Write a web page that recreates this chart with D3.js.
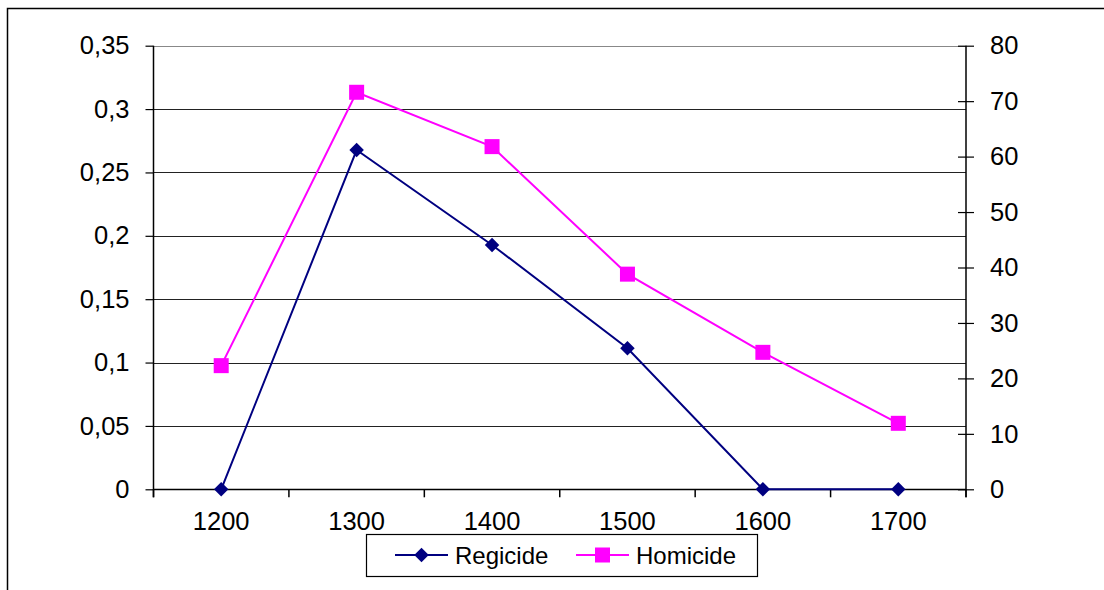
<!DOCTYPE html>
<html>
<head>
<meta charset="utf-8">
<script src="https://cdn.jsdelivr.net/npm/d3@7"></script>
<style>
  html, body { margin: 0; padding: 0; background: #fff; }
  svg { display: block; font-family: "Liberation Sans", Arial, sans-serif; }
</style>
</head>
<body>
<svg id="chart" width="1104" height="590"></svg>
<script>
// Centuries on the category axis
const centuries = ["1200", "1300", "1400", "1500", "1600", "1700"];
// Regicide rate (left axis)
const regicide = [0, 0.2677, 0.1928, 0.1113, 0, 0];
// Homicide rate (right axis)
const homicide = [22.3, 71.6, 61.8, 38.8, 24.7, 11.9];
// Axis tick values and labels
const leftTicks = [0, 0.05, 0.1, 0.15, 0.2, 0.25, 0.3, 0.35];
const leftLabels = ["0", "0,05", "0,1", "0,15", "0,2", "0,25", "0,3", "0,35"];
const rightTicks = [0, 10, 20, 30, 40, 50, 60, 70, 80];
const seriesNames = ["Regicide", "Homicide"];

const svg = d3.select("#chart");
const plot = { left: 153.5, right: 966, top: 45.7, bottom: 489.3 };
const tickFont = 25.5;

const x = d3.scaleBand().domain(centuries).range([plot.left, plot.right]).padding(0);
const yL = d3.scaleLinear().domain([0, 0.35]).range([plot.bottom, plot.top]);
const yR = d3.scaleLinear().domain([0, 80]).range([plot.bottom, plot.top]);
const cx = d => x(d) + x.bandwidth() / 2;

// Outer frame (left and top edges)
svg.append("path")
  .attr("d", "M7.5,590 L7.5,8.5 L1104,8.5")
  .attr("fill", "none").attr("stroke", "#000").attr("stroke-width", 1.5);

// Horizontal gridlines following the left axis
svg.append("g").selectAll("line").data(leftTicks).join("line")
  .attr("x1", plot.left).attr("x2", plot.right)
  .attr("y1", d => Math.round(yL(d)) + 0.5).attr("y2", d => Math.round(yL(d)) + 0.5)
  .attr("stroke", d => d === 0.35 ? "#888" : "#222").attr("stroke-width", 1.2);

// Left axis
const axL = d3.axisLeft(yL).tickValues(leftTicks)
  .tickFormat((d, i) => leftLabels[i]).tickSize(8).tickPadding(16);
const gL = svg.append("g").attr("transform", `translate(${plot.left},0)`).call(axL);

// Right axis with crossing ticks
const axR = d3.axisRight(yR).tickValues(rightTicks).tickSize(8).tickPadding(16);
const gR = svg.append("g").attr("transform", `translate(${plot.right},0)`).call(axR);
gR.selectAll(".tick line").attr("x1", -8);

// Category axis: ticks on band boundaries
const bounds = centuries.map(c => x(c)).concat([plot.right]);
const gX = svg.append("g");
gX.append("line").attr("x1", plot.left).attr("x2", plot.right)
  .attr("y1", Math.round(plot.bottom) + 0.5).attr("y2", Math.round(plot.bottom) + 0.5)
  .attr("stroke", "#000").attr("stroke-width", 1.5);
gX.selectAll("line.b").data(bounds).join("line").attr("class", "b")
  .attr("x1", d => d).attr("x2", d => d)
  .attr("y1", plot.bottom).attr("y2", plot.bottom + 8)
  .attr("stroke", "#000").attr("stroke-width", 1.5);
gX.selectAll("text").data(centuries).join("text")
  .attr("x", d => cx(d)).attr("y", 530)
  .attr("text-anchor", "middle").attr("font-size", tickFont).attr("fill", "#000")
  .text(d => d);

[gL, gR].forEach(g => {
  g.select(".domain").attr("stroke", "#000").attr("stroke-width", 1.5);
  g.selectAll(".tick line").attr("stroke", "#000").attr("stroke-width", 1.2);
  g.selectAll(".tick text").attr("font-size", tickFont).attr("fill", "#000")
    .attr("font-family", "'Liberation Sans', Arial, sans-serif");
  g.attr("font-size", null).attr("font-family", null);
});
gL.select(".domain").attr("d", `M0,${plot.top}V${plot.bottom + 8}`);
gR.select(".domain").attr("d", `M0,${plot.top}V${plot.bottom + 8}`);

// Series lines
const navy = "#000080", magenta = "#FF00FF";
const lineL = d3.line().x((d, i) => cx(centuries[i])).y(d => yL(d));
const lineR = d3.line().x((d, i) => cx(centuries[i])).y(d => yR(d));

svg.append("path").datum(homicide).attr("d", lineR)
  .attr("fill", "none").attr("stroke", magenta).attr("stroke-width", 2);
svg.append("path").datum(regicide).attr("d", lineL)
  .attr("fill", "none").attr("stroke", navy).attr("stroke-width", 2);

const diamond = d3.symbol().type(d3.symbolSquare).size(105);
svg.append("g").selectAll("path").data(regicide).join("path")
  .attr("d", diamond)
  .attr("transform", (d, i) => `translate(${cx(centuries[i])},${yL(d)}) rotate(45)`)
  .attr("fill", navy);
svg.append("g").selectAll("rect").data(homicide).join("rect")
  .attr("x", (d, i) => cx(centuries[i]) - 7.5).attr("y", d => yR(d) - 7.5)
  .attr("width", 15).attr("height", 15).attr("fill", magenta);

// Legend
const leg = svg.append("g");
leg.append("rect").attr("x", 366.5).attr("y", 534.5).attr("width", 391).attr("height", 42)
  .attr("fill", "#fff").attr("stroke", "#000").attr("stroke-width", 1.2);
const legItems = [
  { name: seriesNames[0], color: navy, x0: 395, shape: "diamond" },
  { name: seriesNames[1], color: magenta, x0: 576, shape: "square" }
];
const ly = 555;
legItems.forEach(it => {
  leg.append("line").attr("x1", it.x0).attr("x2", it.x0 + 53).attr("y1", ly).attr("y2", ly)
    .attr("stroke", it.color).attr("stroke-width", 2);
  if (it.shape === "diamond") {
    leg.append("path").attr("d", diamond)
      .attr("transform", `translate(${it.x0 + 26.5},${ly}) rotate(45)`).attr("fill", it.color);
  } else {
    leg.append("rect").attr("x", it.x0 + 19).attr("y", ly - 7.5)
      .attr("width", 15).attr("height", 15).attr("fill", it.color);
  }
  leg.append("text").attr("x", it.x0 + 60).attr("y", ly + 8.5)
    .attr("font-size", 24).attr("fill", "#000").text(it.name);
});
</script>
</body>
</html>
